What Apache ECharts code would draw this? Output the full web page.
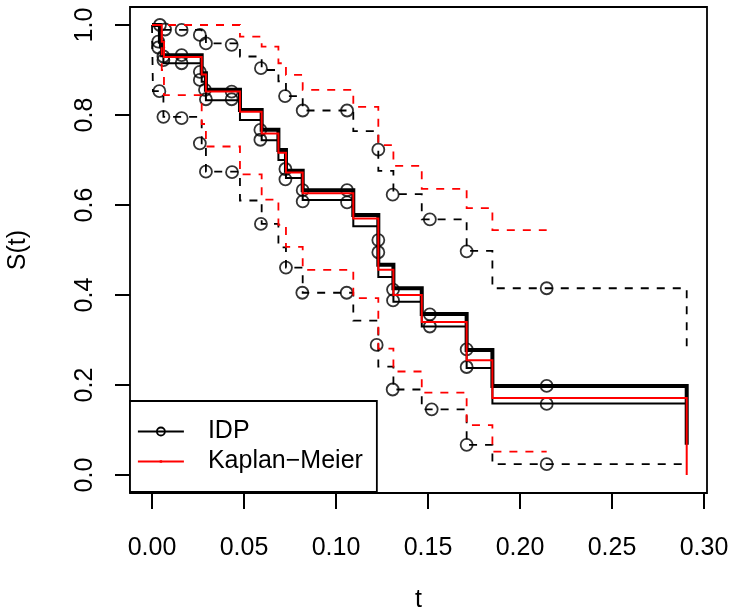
<!DOCTYPE html>
<html>
<head>
<meta charset="utf-8">
<script src="https://cdn.jsdelivr.net/npm/echarts@6/dist/echarts.min.js"></script>
<style>html,body{margin:0;padding:0;background:#fff}#c{width:730px;height:614px}</style>
</head>
<body>
<div id="c"></div>
<script>
// ---- tick labels ----
const tTicks = [0, 0.05, 0.10, 0.15, 0.20, 0.25, 0.30];
const sTicks = [0, 0.2, 0.4, 0.6, 0.8, 1.0];

// ---- IDP estimate: upper (thick) and lower (thin) solid step curves [t, S(t)] ----
const idpHigh = [[0,1.0],[0.0043,0.963],[0.0055,0.933],[0.027,0.893],[0.0293,0.856],[0.0478,0.811],[0.0596,0.767],[0.0687,0.722],[0.0728,0.676],[0.0819,0.633],[0.1094,0.578],[0.123,0.467],[0.1312,0.415],[0.1466,0.358],[0.171,0.278],[0.185,0.198],[0.2906,0.067]];
const idpLow = [[0,1.0],[0.0043,0.95],[0.0062,0.915],[0.027,0.874],[0.0293,0.833],[0.0478,0.789],[0.0596,0.744],[0.0687,0.70],[0.0728,0.66],[0.0819,0.611],[0.1094,0.553],[0.123,0.44],[0.1312,0.385],[0.1466,0.33],[0.171,0.238],[0.185,0.159],[0.2906,0.159]];

// ---- IDP confidence band (dashed black) ----
const idpCIUpper = [[0,1.0],[0.006,0.989],[0.027,0.978],[0.0293,0.959],[0.0478,0.93],[0.0596,0.90],[0.0687,0.875],[0.0728,0.842],[0.0819,0.81],[0.1094,0.764],[0.123,0.676],[0.1312,0.624],[0.1466,0.568],[0.171,0.498],[0.185,0.415],[0.2906,0.27]];
const idpCILower = [[0,1.0],[0.0005,0.853],[0.0062,0.796],[0.027,0.737],[0.0293,0.674],[0.0478,0.61],[0.0596,0.558],[0.0687,0.506],[0.0728,0.461],[0.0819,0.405],[0.1094,0.343],[0.123,0.241],[0.1312,0.19],[0.1466,0.146],[0.171,0.067],[0.185,0.024],[0.2906,0.024]];

// ---- IDP circles ----
const idpPoints = [
  [0.0043,1.0],[0.0071,0.99],[0.0034,0.963],[0.0034,0.95],[0.004,0.853],[0.0062,0.93],[0.0062,0.922],[0.0062,0.796],
  [0.0161,0.989],[0.0161,0.933],[0.0161,0.915],[0.0161,0.793],
  [0.026,0.978],[0.026,0.896],[0.026,0.878],[0.026,0.737],
  [0.0293,0.959],[0.0288,0.856],[0.0293,0.835],[0.0293,0.674],
  [0.0433,0.956],[0.0433,0.852],[0.0433,0.835],[0.0435,0.673],
  [0.0592,0.904],[0.0589,0.767],[0.0589,0.745],[0.0592,0.558],
  [0.0723,0.842],[0.0725,0.68],[0.0725,0.657],[0.0728,0.461],
  [0.0819,0.81],[0.0819,0.633],[0.0819,0.608],[0.0817,0.405],
  [0.106,0.81],[0.106,0.633],[0.106,0.606],[0.1058,0.405],
  [0.123,0.723],[0.123,0.522],[0.123,0.495],[0.1221,0.289],
  [0.1308,0.623],[0.131,0.412],[0.131,0.388],[0.1308,0.19],
  [0.151,0.568],[0.151,0.357],[0.151,0.33],[0.152,0.146],
  [0.171,0.497],[0.171,0.279],[0.171,0.24],[0.171,0.067],
  [0.2145,0.415],[0.2145,0.198],[0.2145,0.158],[0.2145,0.024]
];

// ---- Kaplan-Meier estimate and its confidence band (red) ----
const km = [[0,1.0],[0.0053,0.963],[0.0065,0.929],[0.027,0.89],[0.0293,0.852],[0.0478,0.807],[0.0596,0.759],[0.0687,0.716],[0.0728,0.672],[0.0819,0.626],[0.1094,0.570],[0.123,0.456],[0.1312,0.40],[0.1466,0.34],[0.171,0.255],[0.185,0.171],[0.2906,0.0]];
const kmUpper = [[0,1.0],[0.0478,0.974],[0.0596,0.952],[0.0687,0.915],[0.0728,0.889],[0.0819,0.856],[0.1094,0.818],[0.123,0.733],[0.1312,0.687],[0.1466,0.636],[0.171,0.593],[0.185,0.544],[0.2145,0.544]];
const kmLower = [[0,1.0],[0.0053,0.90],[0.0065,0.844],[0.027,0.78],[0.0293,0.73],[0.0478,0.668],[0.0596,0.612],[0.0687,0.556],[0.0728,0.507],[0.0819,0.456],[0.1094,0.393],[0.123,0.281],[0.1312,0.23],[0.1466,0.183],[0.171,0.111],[0.185,0.052],[0.2145,0.052]];

const legendNames = ['IDP', 'Kaplan\u2212Meier'];

const FONT = '"Liberation Sans", Arial, Helvetica, sans-serif';
const chart = echarts.init(document.getElementById('c'), null, {renderer: 'canvas'});

function stepLine(name, data, color, width, dashed, z, extra) {
  return Object.assign({
    name: name, type: 'line', data: data, step: 'end',
    symbol: 'none', showSymbol: false, silent: true, z: z,
    lineStyle: {color: color, width: width, type: dashed ? [8, 8] : 'solid', cap: 'butt', join: 'miter'},
    itemStyle: {color: color},
    emphasis: {disabled: true}
  }, extra || {});
}

chart.setOption({
  animation: false,
  backgroundColor: '#fff',
  textStyle: {fontFamily: FONT},
  grid: {left: 130, right: 23, top: 7, bottom: 121, show: true, borderColor: '#000', borderWidth: 1.8,
         backgroundColor: 'transparent', containLabel: false, outerBoundsMode: 'none'},
  xAxis: {
    type: 'value', min: -0.01196, max: 0.30163, position: 'bottom',
    name: 't', nameLocation: 'middle', nameGap: 95, nameMoveOverlap: false,
    nameTextStyle: {fontSize: 25, color: '#000', fontFamily: FONT},
    axisLine: {show: false, onZero: false}, splitLine: {show: false},
    axisTick: {show: true, customValues: tTicks, length: 16, inside: false, lineStyle: {color: '#000', width: 2}},
    axisLabel: {customValues: tTicks, margin: 43, fontSize: 25, color: '#000', fontFamily: FONT,
                formatter: v => v.toFixed(2)}
  },
  yAxis: {
    type: 'value', min: -0.04, max: 1.04, position: 'left',
    name: 'S(t)', nameLocation: 'middle', nameGap: 99, nameRotate: 90, nameMoveOverlap: false,
    nameTextStyle: {fontSize: 25, color: '#000', fontFamily: FONT},
    axisLine: {show: false, onZero: false}, splitLine: {show: false},
    axisTick: {show: true, customValues: sTicks, length: 15, inside: false, lineStyle: {color: '#000', width: 2}},
    axisLabel: {customValues: sTicks, margin: 32, rotate: 90, fontSize: 25, color: '#000', fontFamily: FONT,
                formatter: v => v.toFixed(1)}
  },
  legend: {
    show: true, orient: 'vertical', left: 130, top: 401, selectedMode: false,
    padding: [18, 14, 18, 7], itemWidth: 46, itemHeight: 10, itemGap: 5,
    borderColor: '#000', borderWidth: 1.8, borderRadius: 0, backgroundColor: '#fff',
    textStyle: {fontSize: 25, color: '#000', fontFamily: FONT, padding: [0, 0, 0, 19]},
    data: [
      {name: legendNames[0], itemStyle: {color: 'rgba(0,0,0,0)', borderColor: '#000', borderWidth: 1.8},
       lineStyle: {color: '#000', width: 1.8, type: 'solid'}},
      {name: legendNames[1], itemStyle: {color: '#ff0000', borderWidth: 0},
       lineStyle: {color: '#ff0000', width: 1.8, type: 'solid'}}
    ]
  },
  series: [
    stepLine(legendNames[0], idpLow, '#000', 2, false, 2, {symbol: 'circle'}),
    stepLine('IDP high', idpHigh, '#000', 4, false, 2),
    stepLine('IDP CI upper', idpCIUpper, '#000', 1.8, true, 2),
    stepLine('IDP CI lower', idpCILower, '#000', 1.8, true, 2),
    {
      name: 'IDP points', type: 'scatter', data: idpPoints, symbol: 'circle', symbolSize: 12, silent: true, z: 3,
      itemStyle: {color: 'rgba(0,0,0,0)', borderColor: '#000', borderWidth: 1.8},
      emphasis: {disabled: true}
    },
    stepLine(legendNames[1], km, '#ff0000', 2, false, 4,
      {symbol: 'path://M0,0 M10,10 M3.5,3.5 L6.5,3.5 L6.5,6.5 L3.5,6.5 Z'}),
    stepLine('KM upper', kmUpper, '#ff0000', 1.8, true, 4),
    stepLine('KM lower', kmLower, '#ff0000', 1.8, true, 4)
  ]
});
</script>
</body>
</html>
